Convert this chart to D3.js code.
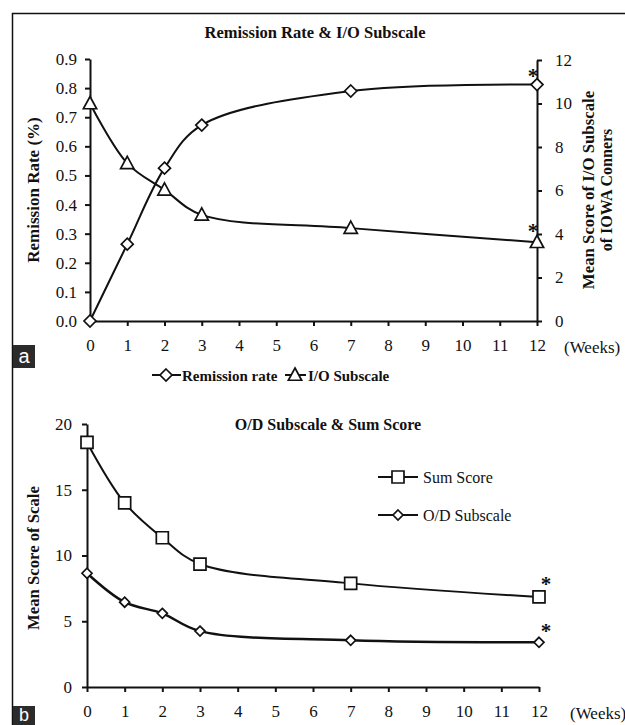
<!DOCTYPE html>
<html><head><meta charset="utf-8">
<script src="https://cdn.jsdelivr.net/npm/d3@7"></script>
<style>body{margin:0;background:#fff}svg{display:block}text{font-family:"Liberation Serif","Times New Roman",serif;fill:#111}</style>
</head><body>
<svg id="c" width="625" height="725"></svg>
<script>
// ---- data ----
const weeks = [0, 1, 2, 3, 7, 12];
const xTicks = [0,1,2,3,4,5,6,7,8,9,10,11,12];
const remissionRate = [0.0, 0.264, 0.525, 0.673, 0.79, 0.812];
const ioSubscale = [10.0, 7.25, 6.03, 4.88, 4.27, 3.62];
const sumScore = [18.6, 14.0, 11.35, 9.35, 7.88, 6.85];
const odSubscale = [8.65, 6.45, 5.6, 4.25, 3.55, 3.4];
const leftTicksA = [0,0.1,0.2,0.3,0.4,0.5,0.6,0.7,0.8,0.9];
const rightTicksA = [0,2,4,6,8,10,12];
const yTicksB = [0,5,10,15,20];

const svg = d3.select("#c");
const ink = "#111";

// frame (top and left edges)
svg.append("path").attr("d","M12.5,725 V13.5 H625").attr("fill","none").attr("stroke",ink).attr("stroke-width",1.5);

function styleAxis(g){
  g.selectAll(".domain").attr("stroke",ink).attr("stroke-width",2);
  g.selectAll(".tick line").attr("stroke",ink).attr("stroke-width",2);
  g.selectAll(".tick text").attr("font-size",17).attr("fill",ink);
}
function marker(g, type, x, y, s){
  const m = g.append("path").attr("fill","#fff").attr("stroke",ink).attr("stroke-width",1.7)
    .attr("transform",`translate(${x},${y})`);
  if(type==="diamond") m.attr("d",`M0,${-s}L${s},0L0,${s}L${-s},0Z`);
  if(type==="triangle") m.attr("d",`M0,${-s}L${s*0.95},${s*0.75}L${-s*0.95},${s*0.75}Z`);
  if(type==="square") m.attr("d",`M${-s},${-s}H${s}V${s}H${-s}Z`);
}
const curve = d3.curveCatmullRom.alpha(0.5);

// ---------- Panel a ----------
const xa = d3.scaleLinear().domain([0,12]).range([90,537]);
const yaL = d3.scaleLinear().domain([0,0.9]).range([321,59]);
const yaR = d3.scaleLinear().domain([0,12]).range([321,60]);

svg.append("g").attr("transform","translate(0,321)")
  .call(d3.axisBottom(xa).tickValues(xTicks).tickSize(5).tickPadding(13).tickSizeOuter(0))
  .call(styleAxis);
svg.append("g").attr("transform","translate(90,0)")
  .call(d3.axisLeft(yaL).tickValues(leftTicksA).tickFormat(d3.format(".1f")).tickSize(5).tickPadding(8).tickSizeOuter(0))
  .call(styleAxis);
svg.append("g").attr("transform","translate(537,0)")
  .call(d3.axisRight(yaR).tickValues(rightTicksA).tickSize(5).tickPadding(13).tickSizeOuter(0))
  .call(styleAxis);

svg.append("text").attr("x",315).attr("y",38).attr("text-anchor","middle").attr("font-weight","bold").attr("font-size",16.5)
  .text("Remission Rate & I/O Subscale");
svg.append("text").attr("transform","translate(39,190) rotate(-90)").attr("text-anchor","middle").attr("font-weight","bold").attr("font-size",17)
  .text("Remission Rate (%)");
svg.append("text").attr("transform","translate(594,190) rotate(-90)").attr("text-anchor","middle").attr("font-weight","bold").attr("font-size",16.8)
  .text("Mean Score of I/O Subscale");
svg.append("text").attr("transform","translate(612,190) rotate(-90)").attr("text-anchor","middle").attr("font-weight","bold").attr("font-size",16)
  .text("of IOWA Conners");
svg.append("text").attr("x",564).attr("y",353).attr("font-size",17).text("(Weeks)");

const remLine = d3.line().x((d,i)=>xa(weeks[i])).y(d=>yaL(d)).curve(curve);
const ioLine = d3.line().x((d,i)=>xa(weeks[i])).y(d=>yaR(d)).curve(curve);
svg.append("path").attr("d",remLine(remissionRate)).attr("fill","none").attr("stroke",ink).attr("stroke-width",2);
svg.append("path").attr("d",ioLine(ioSubscale)).attr("fill","none").attr("stroke",ink).attr("stroke-width",2);
const ma = svg.append("g");
remissionRate.forEach((v,i)=>marker(ma,"diamond",xa(weeks[i]),yaL(v),6));
ioSubscale.forEach((v,i)=>marker(ma,"triangle",xa(weeks[i]),yaR(v),7));
svg.append("text").attr("x",xa(12)-4).attr("y",yaL(remissionRate[5])-2).attr("text-anchor","middle").attr("font-size",21).attr("font-weight","bold").text("*");
svg.append("text").attr("x",xa(12)-4).attr("y",yaR(ioSubscale[5])-4).attr("text-anchor","middle").attr("font-size",21).attr("font-weight","bold").text("*");

// legend a
const lgA = svg.append("g");
lgA.append("line").attr("x1",152).attr("x2",181).attr("y1",375).attr("y2",375).attr("stroke",ink).attr("stroke-width",2);
marker(lgA,"diamond",166,375,6);
lgA.append("text").attr("x",182).attr("y",381).attr("font-weight","bold").attr("font-size",15).text("Remission rate");
lgA.append("line").attr("x1",285).attr("x2",306).attr("y1",375).attr("y2",375).attr("stroke",ink).attr("stroke-width",2);
marker(lgA,"triangle",295,375,7);
lgA.append("text").attr("x",308).attr("y",381).attr("font-weight","bold").attr("font-size",15).text("I/O Subscale");

// label box a
svg.append("rect").attr("x",13).attr("y",345).attr("width",22).attr("height",23).attr("fill","#2b2b2b");
svg.append("text").attr("x",24).attr("y",363).attr("text-anchor","middle").attr("font-size",20).style("font-family","'Liberation Sans',Arial,sans-serif").style("fill","#fff").text("a");

// ---------- Panel b ----------
const xb = d3.scaleLinear().domain([0,12]).range([87,539]);
const yb = d3.scaleLinear().domain([0,20]).range([687,424]);

svg.append("g").attr("transform","translate(0,687)")
  .call(d3.axisBottom(xb).tickValues(xTicks).tickSize(5).tickPadding(13).tickSizeOuter(0))
  .call(styleAxis);
svg.append("g").attr("transform","translate(87,0)")
  .call(d3.axisLeft(yb).tickValues(yTicksB).tickSize(5).tickPadding(10).tickSizeOuter(0))
  .call(styleAxis);

svg.append("text").attr("x",328).attr("y",430).attr("text-anchor","middle").attr("font-weight","bold").attr("font-size",16)
  .text("O/D Subscale & Sum Score");
svg.append("text").attr("transform","translate(39,558) rotate(-90)").attr("text-anchor","middle").attr("font-weight","bold").attr("font-size",16.7)
  .text("Mean Score of Scale");
svg.append("text").attr("x",570).attr("y",719).attr("font-size",17).text("(Weeks)");

const bLine = d3.line().x((d,i)=>xb(weeks[i])).y(d=>yb(d)).curve(curve);
svg.append("path").attr("d",bLine(sumScore)).attr("fill","none").attr("stroke",ink).attr("stroke-width",2);
svg.append("path").attr("d",bLine(odSubscale)).attr("fill","none").attr("stroke",ink).attr("stroke-width",2.5);
const mb = svg.append("g");
sumScore.forEach((v,i)=>marker(mb,"square",xb(weeks[i]),yb(v),6));
odSubscale.forEach((v,i)=>marker(mb,"diamond",xb(weeks[i]),yb(v),5));
svg.append("text").attr("x",546).attr("y",591).attr("text-anchor","middle").attr("font-size",21).attr("font-weight","bold").text("*");
svg.append("text").attr("x",546).attr("y",638).attr("text-anchor","middle").attr("font-size",21).attr("font-weight","bold").text("*");

// legend b
const lgB = svg.append("g");
lgB.append("line").attr("x1",378).attr("x2",418).attr("y1",477).attr("y2",477).attr("stroke",ink).attr("stroke-width",2);
marker(lgB,"square",398,477,6);
lgB.append("text").attr("x",423).attr("y",483).attr("font-size",16).text("Sum Score");
lgB.append("line").attr("x1",378).attr("x2",418).attr("y1",515).attr("y2",515).attr("stroke",ink).attr("stroke-width",2);
marker(lgB,"diamond",398,515,5);
lgB.append("text").attr("x",423).attr("y",521).attr("font-size",16).text("O/D Subscale");

// label box b
svg.append("rect").attr("x",13).attr("y",706).attr("width",22).attr("height",19).attr("fill","#2b2b2b");
svg.append("text").attr("x",24).attr("y",721).attr("text-anchor","middle").attr("font-size",18).style("font-family","'Liberation Sans',Arial,sans-serif").style("fill","#fff").text("b");
</script>
</body></html>
